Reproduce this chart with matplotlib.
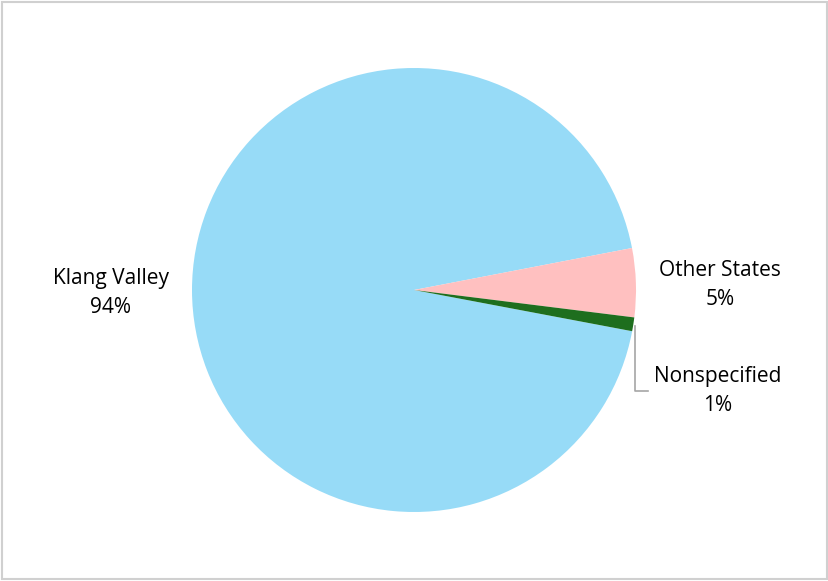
import matplotlib.pyplot as plt
from matplotlib.patches import Rectangle

labels = ['Klang Valley', 'Other States', 'Nonspecified']
values = [94, 5, 1]
colors = ['#97DBF7', '#FFC0C0', '#1E6E1E']

plt.rcParams['font.family'] = ['Open Sans', 'DejaVu Sans']

fig = plt.figure(figsize=(8.29, 5.81), dpi=100)
ax = fig.add_axes([0, 0, 1, 1])

# pie in pixel-like coords, clockwise, first slice starting just below 3 o'clock
ax.pie(values, colors=colors, startangle=-10.7, counterclock=False,
       center=(414, 291), radius=222, frame=True,
       wedgeprops=dict(linewidth=0))
ax.set_xlim(0, 829)
ax.set_ylim(0, 581)
ax.set_aspect('equal')
ax.axis('off')

total = sum(values)
pct = ['%d%%' % round(v / total * 100) for v in values]
label_pos = [(111, 288), (720, 296), (718, 190)]
for lab, p, (x, y) in zip(labels, pct, label_pos):
    ax.text(x, y, lab + '\n' + p, ha='center', va='center', fontsize=15,
            color='#000000', linespacing=1.45)

# leader line for the thin slice
ax.plot([635, 635, 648], [255, 190, 190], color='#A6A6A6', lw=1.2)

fig.patches.append(Rectangle((0.002, 0.003), 0.996, 0.994, transform=fig.transFigure,
                             fill=False, edgecolor='#D0D0D0', lw=1.5))

plt.savefig('out.png', dpi=100)
